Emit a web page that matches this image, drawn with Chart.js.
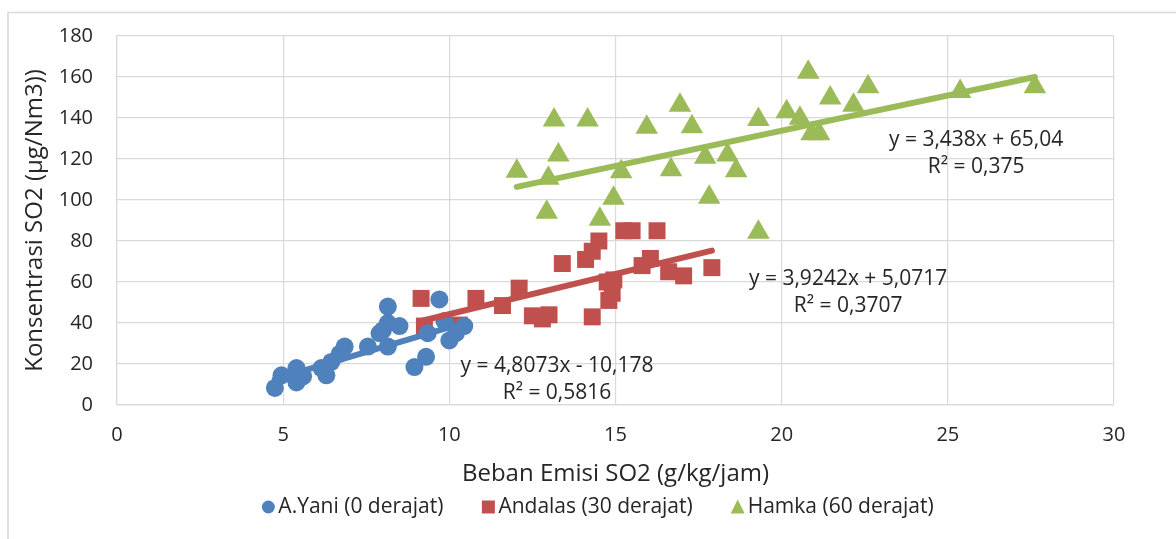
<!DOCTYPE html>
<html><head><meta charset="utf-8">
<script src="https://cdn.jsdelivr.net/npm/chart.js@4.4.1/dist/chart.umd.min.js"></script>
<style>html,body{margin:0;padding:0;background:#fff}#wrap{width:1176px;height:539px;position:relative}</style>
</head><body><div id="wrap"><canvas id="c" width="1176" height="539"></canvas></div>
<script>
// ---- data ----
const seriesNames = ['A.Yani (0 derajat)', 'Andalas (30 derajat)', 'Hamka (60 derajat)'];
const yaniX = [4.75, 4.95, 5.4, 5.4, 5.6, 6.15, 6.3, 6.45, 6.7, 6.85, 7.55, 7.9, 8.0, 8.15, 8.15, 8.15, 8.5, 8.95, 9.3, 9.35, 9.7, 9.85, 10.0, 10.2, 10.45];
const yaniY = [8.3, 14.5, 18, 11, 14, 18, 14.5, 21, 25, 28.5, 28.5, 35, 36.5, 48, 40, 28.5, 38.5, 18.5, 23.5, 35, 51.5, 41, 31.5, 35, 38.5];
const andalasX = [9.15, 9.25, 10.3, 10.8, 11.6, 12.1, 12.5, 12.8, 13.0, 13.4, 14.1, 14.3, 14.5, 14.3, 14.75, 14.8, 14.9, 14.95, 15.25, 15.5, 16.25, 15.8, 16.05, 16.6, 17.05, 17.9];
const andalasY = [52, 38.5, 39, 52, 48.5, 57, 43.5, 42, 44, 69, 71, 75, 80, 43, 60, 51, 54.5, 61, 85, 85, 85, 68, 71.5, 65, 63, 67];
const hamkaX = [12.03, 13.15, 14.16, 13.28, 12.98, 12.93, 14.53, 14.94, 15.17, 15.94, 16.94, 17.3, 16.67, 17.7, 17.82, 18.37, 18.63, 19.3, 19.3, 20.15, 20.55, 20.8, 20.9, 21.13, 21.46, 22.16, 22.6, 25.37, 27.62];
const hamkaY = [114, 139, 139, 122, 110.6, 94, 90.6, 100.8, 113.8, 135.5, 146.2, 135.7, 114.8, 120.8, 101.3, 122, 114.3, 139.3, 84.3, 143, 139.9, 162.3, 132.3, 132.3, 149.8, 146.2, 155.3, 152.9, 155.3];
const trendSlopes = [4.8073, 3.9242, 3.438];
const trendIntercepts = [-10.178, 5.0717, 65.04];
const trendTexts = [['y = 4,8073x - 10,178', 'R\u00B2 = 0,5816'], ['y = 3,9242x + 5,0717', 'R\u00B2 = 0,3707'], ['y = 3,438x + 65,04', 'R\u00B2 = 0,375']];
const xTicks = [0, 5, 10, 15, 20, 25, 30];
const yTicks = [0, 20, 40, 60, 80, 100, 120, 140, 160, 180];
const xTitle = 'Beban Emisi SO2 (g/kg/jam)';
const yTitle = 'Konsentrasi SO2 (\u00B5g/Nm3))';

// ---- styling / layout ----
const colors = ['#4F81BD', '#C0504D', '#9BBB59'];
const styles = ['circle', 'rect', 'triangle'];
const radii = [9, 12, 13];
const FONT = '"Open Sans"';
const TXT = '#262626';
const GRID = '#D9D9D9';
// label anchors in data units (first line centre)
const labelAnchors = [[13.24, 19.2], [22.0, 61.5], [25.85, 129.2]];

const xs = [yaniX, andalasX, hamkaX];
const ys = [yaniY, andalasY, hamkaY];
const datasets = [];
for (let i = 0; i < 3; i++) {
  datasets.push({
    label: seriesNames[i],
    data: xs[i].map((x, k) => ({x: x, y: ys[i][k]})),
    backgroundColor: colors[i], borderColor: colors[i], borderWidth: 0,
    pointStyle: styles[i], pointRadius: radii[i], pointHoverRadius: radii[i],
    order: 1
  });
}
for (let i = 0; i < 3; i++) {
  const x0 = Math.min(...xs[i]), x1 = Math.max(...xs[i]);
  datasets.push({
    label: 'trend' + i, isTrend: true,
    data: [{x: x0, y: trendSlopes[i] * x0 + trendIntercepts[i]}, {x: x1, y: trendSlopes[i] * x1 + trendIntercepts[i]}],
    showLine: true, borderColor: colors[i], backgroundColor: colors[i], borderWidth: 6,
    borderCapStyle: 'round', pointRadius: 0, pointHoverRadius: 0, order: 0
  });
}

const deco = {
  id: 'deco',
  beforeDraw(chart) {
    const c = chart.ctx;
    c.save();
    c.fillStyle = '#fff';
    c.fillRect(0, 0, chart.width, chart.height);
    c.strokeStyle = GRID; c.lineWidth = 1.5;
    c.beginPath();
    c.moveTo(8, 539); c.lineTo(8, 12.5); c.lineTo(1176, 12.5);
    c.stroke();
    c.restore();
  },
  afterDraw(chart) {
    const c = chart.ctx, sx = chart.scales.x, sy = chart.scales.y;
    c.save();
    c.fillStyle = TXT;
    c.font = '21px ' + FONT;
    c.textAlign = 'center'; c.textBaseline = 'middle';
    for (let i = 0; i < 3; i++) {
      const px = sx.getPixelForValue(labelAnchors[i][0]);
      const py = sy.getPixelForValue(labelAnchors[i][1]);
      c.fillText(trendTexts[i][0], px, py);
      c.fillText(trendTexts[i][1], px, py + 27);
    }
    // legend
    c.font = '21px ' + FONT;
    c.textAlign = 'left';
    const mW = 14, mGap = 3, itemGap = 38;
    const widths = seriesNames.map(n => c.measureText(n).width);
    let total = 0;
    widths.forEach((w, i) => { total += mW + mGap + w + (i < 2 ? itemGap : 0); });
    let x = 597.5 - total / 2;
    const ly = 507;
    for (let i = 0; i < 3; i++) {
      const cx = x + mW / 2;
      c.fillStyle = colors[i];
      c.beginPath();
      if (styles[i] === 'circle') { c.arc(cx, ly, 6.5, 0, Math.PI * 2); }
      else if (styles[i] === 'rect') { c.rect(cx - 6.5, ly - 6.5, 13, 13); }
      else { c.moveTo(cx, ly - 7.5); c.lineTo(cx + 7, ly + 6.5); c.lineTo(cx - 7, ly + 6.5); c.closePath(); }
      c.fill();
      c.fillStyle = TXT;
      c.fillText(seriesNames[i], x + mW + mGap, ly);
      x += mW + mGap + widths[i] + itemGap;
    }
    c.restore();
  }
};

const XH = 84;
new Chart(document.getElementById('c'), {
  type: 'scatter',
  data: {datasets: datasets},
  options: {
    responsive: false, animation: false, events: [],
    layout: {padding: {left: 19, right: 62, top: 35, bottom: 539 - 405 - XH}},
    plugins: {legend: {display: false}, tooltip: {enabled: false}},
    scales: {
      x: {
        type: 'linear', min: 0, max: 30,
        afterBuildTicks: s => { s.ticks = xTicks.map(v => ({value: v})); },
        afterFit: s => { s.height = XH; },
        ticks: {font: {family: FONT, size: 20}, color: TXT, padding: 18, maxRotation: 0},
        grid: {color: GRID, lineWidth: 1.2, drawTicks: false},
        border: {color: GRID, width: 1.2},
        title: {display: true, text: xTitle, color: TXT, font: {family: FONT, size: 24}, padding: 0}
      },
      y: {
        type: 'linear', min: 0, max: 180,
        afterBuildTicks: s => { s.ticks = yTicks.map(v => ({value: v})); },
        afterFit: s => { s.width = 117 - 19; },
        ticks: {font: {family: FONT, size: 20}, color: TXT, padding: 24},
        grid: {color: GRID, lineWidth: 1.2, drawTicks: false},
        border: {color: GRID, width: 1.2},
        title: {display: true, text: yTitle, color: TXT, font: {family: FONT, size: 24}, padding: {top: 2, bottom: 0}}
      }
    }
  },
  plugins: [deco]
});
</script></body></html>
